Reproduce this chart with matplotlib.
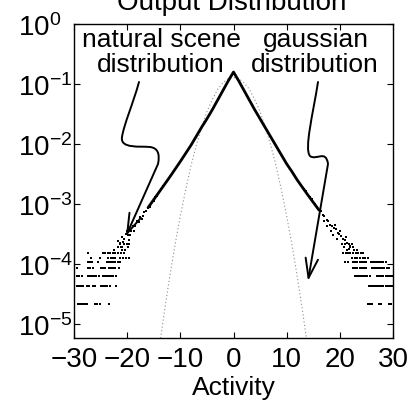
import numpy as np
import matplotlib
matplotlib.use('Agg')
import matplotlib.pyplot as plt
from matplotlib.path import Path
from matplotlib.patches import FancyArrowPatch, ArrowStyle
from matplotlib.ticker import LogLocator, NullFormatter

plt.rcParams['font.family'] = ['Liberation Sans', 'DejaVu Sans']
plt.rcParams['mathtext.fontset'] = 'custom'
plt.rcParams['mathtext.rm'] = 'Liberation Sans'
plt.rcParams['mathtext.it'] = 'Liberation Sans:italic'
plt.rcParams['mathtext.default'] = 'regular'

# natural scene output histogram, dense central part (log10 probability)
core_act = [-16, -14, -12, -11, -10, -8, -6, -5, -4, -3, -2, -1, 0,
            1, 2, 3, 4, 5, 6, 8, 10, 11, 12, 14, 16]
core_logp = [-3.05, -2.80, -2.55, -2.42, -2.29, -2.02, -1.72, -1.58, -1.43, -1.27, -1.11, -0.95, -0.80,
             -0.95, -1.11, -1.27, -1.43, -1.58, -1.73, -2.03, -2.33, -2.46, -2.60, -2.85, -3.09]

# scattered bins on the shoulders
shoulder_act = [-13.2, -13.6, -14.0, -14.3, -14.7, -15.0, -15.4, -15.7, -16.1, -16.4, -16.8, -17.1,
                -17.5, -17.8, -18.2, -18.5, -18.9, -19.2, -19.6, -19.9, -20.3, -20.6, -21.0, -21.3,
                -21.7, -17.3, -18.7, -19.4, -20.1, -20.8, -19.7, -21.2,
                13.2, 13.6, 14.0, 14.3, 14.7, 15.0, 15.4, 15.7, 16.1, 16.4, 16.8, 17.1, 17.5, 17.8,
                18.2, 18.5, 18.9, 19.2, 19.6, 19.9, 20.3, 20.6, 21.0, 21.3, 21.7, 22.0,
                17.0, 17.6, 18.4, 19.0, 19.5, 20.0, 20.5, 21.2, 21.8, 18.8, 20.8]
shoulder_logp = [-2.70, -2.74, -2.80, -2.86, -2.88, -2.95, -2.97, -3.04, -3.06, -3.12, -3.13, -3.20,
                 -3.22, -3.30, -3.28, -3.37, -3.36, -3.45, -3.42, -3.52, -3.50, -3.58, -3.55, -3.65,
                 -3.62, -3.25, -3.44, -3.52, -3.45, -3.63, -3.60, -3.72,
                 -2.74, -2.78, -2.84, -2.88, -2.92, -2.97, -3.00, -3.05, -3.10, -3.12, -3.18, -3.20,
                 -3.26, -3.28, -3.34, -3.36, -3.40, -3.42, -3.48, -3.50, -3.53, -3.58, -3.60, -3.64,
                 -3.66, -3.70, -3.28, -3.36, -3.45, -3.35, -3.58, -3.44, -3.66, -3.55, -3.75, -3.52, -3.72]

# far tails: bins with only a few counts (one count = count_unit)
count_unit = 2.15e-5
count1_act = [-29.3, -29.0, -28.7, -28.4, -28.0, -27.6, -26.0, -25.6, -25.2, -23.5,
              25.3, 25.7, 26.1, 27.3, 27.7, 29.3, 29.7]
count2_act = [-29.4, -29.1, -28.7, -28.3, -27.6, -27.2, -26.4, -26.0, -25.0, -24.6, -24.2, -23.8, -23.3, -22.1,
              25.4, 25.8, 26.2, 26.6, 27.0, 27.4, 27.8, 28.2, 28.6, 29.0, 29.4, 29.8]
count3_act = [-29.4, -29.0, -28.5, -27.4, -27.0, -26.6, -26.2, -25.8, -25.3, -24.6, -24.2, -23.8, -23.4,
              -23.0, -22.6, -22.1,
              22.8, 23.2, 23.6, 24.0, 24.4, 24.8, 25.2, 25.6, 27.0, 27.4, 27.8, 28.2, 28.6, 29.0, 29.4, 29.8]
count4_act = [-29.4, -27.4, -27.0, -26.5, -25.0, -24.6, -24.2, -23.5, -23.1, -22.6, -22.2, -21.5,
              22.5, 22.9, 23.3, 23.7, 24.1, 24.5, 25.0, 26.0, 26.4, 26.8, 27.2, 27.6, 28.0, 28.4, 28.8, 29.3]
count5_act = [-27.4, -27.0, -26.6, -25.4, -23.8, -23.4, -23.0, -22.6, -22.2, -21.7, -21.3,
              21.0, 21.5, 22.5, 22.9, 23.3, 23.7, 24.1, 24.5, 24.9, 25.8, 26.2, 26.6, 27.0, 27.4, 27.8,
              28.2, 28.7]
count6_act = [-26.8, -25.1, -23.6, -23.1, -22.7, -22.2, -21.3, -20.8, -20.3, -19.7,
              22.3, 22.8, 23.3, 23.8, 24.3, 24.8, 25.3]
count7_act = [-27.4, -24.5, -24.1, -23.6, -23.2, -22.7, -22.3, -21.7, -21.2, -20.6,
              20.6, 21.1, 21.6, 22.0, 22.5, 23.0, 23.5, 24.0, 24.4]
cloud_act = [-22.4, -21.0, -20.4, -21.8, -20.9, -19.8, -21.3, -20.6, -20.1, -19.6,
             21.4, 22.6, 23.2, 21.9, 22.4, 20.9, 21.7, 22.2]
cloud_count = [8, 8, 8, 9, 9, 9, 10, 10, 10, 10,
               8, 8, 8, 9, 9, 10, 10, 10]

# gaussian with the same variance (log10 probability)
gauss_act = [-14, -13, -12, -11, -10, -9, -8, -7, -6, -5, -4, -3, -2, -1, 0,
             1, 2, 3, 4, 5, 6, 7, 8, 9, 10, 11, 12, 13, 14]
gauss_logp = [-5.41, -4.79, -4.21, -3.68, -3.20, -2.76, -2.36, -2.02, -1.72, -1.46, -1.26, -1.09,
              -0.98, -0.91, -0.89, -0.91, -0.98, -1.09, -1.26, -1.46, -1.72, -2.02, -2.36, -2.76,
              -3.20, -3.68, -4.21, -4.79, -5.41]

W, H = 417, 402
fig = plt.figure(figsize=(W / 100, H / 100), dpi=100)
ax = fig.add_axes([74 / W, 1 - 339 / H, 319 / W, 314 / H])

ax.plot(gauss_act, np.power(10.0, gauss_logp), color='0.55', lw=0.8, ls=(0, (1, 2.2)))
ax.plot(core_act, np.power(10.0, core_logp), color='k', lw=2.0)

dot = dict(ls='none', marker='s', ms=2.1, mew=0, color='k')
ax.plot(shoulder_act, np.power(10.0, shoulder_logp), **dot)
for n, xs in enumerate([count1_act, count2_act, count3_act, count4_act,
                        count5_act, count6_act, count7_act], start=1):
    ax.plot(xs, [n * count_unit] * len(xs), **dot)
ax.plot(cloud_act, np.array(cloud_count) * count_unit, **dot)

ax.set_yscale('log')
ax.set_xlim(-30, 30)
ax.set_ylim(10 ** -5.23, 1)
ax.set_xticks([-30, -20, -10, 0, 10, 20, 30])
ax.set_yticks([1, 1e-1, 1e-2, 1e-3, 1e-4, 1e-5])
ax.set_yticklabels(['$10^{0}$', '$10^{-1}$', '$10^{-2}$', '$10^{-3}$', '$10^{-4}$', '$10^{-5}$'])
ax.yaxis.set_minor_locator(LogLocator(base=10, subs=np.arange(2, 10)))
ax.yaxis.set_minor_formatter(NullFormatter())
ax.tick_params(which='both', direction='in', top=True, right=True, width=0.8)
ax.tick_params(which='major', length=4)
ax.tick_params(which='minor', length=2)
ax.tick_params(axis='x', labelsize=20, pad=6)
ax.tick_params(axis='y', labelsize=20, pad=40)
for lab in ax.get_yticklabels():
    lab.set_ha('left')
for s in ax.spines.values():
    s.set_linewidth(1.0)

ax.set_xlabel('Activity', fontsize=19)
ax.xaxis.label.set_va('baseline')
ax.xaxis.set_label_coords(0.5, -(395 - 339) / 314)
fig.text(232 / W, 1 - 10 / H, 'Output Distribution', ha='center', va='baseline', fontsize=20)

# annotations
def px(x, y):
    return (x / W, 1 - y / H)

fs = 19
fig.text(*px(161, 47), 'natural scene', ha='center', va='baseline', fontsize=fs)
fig.text(*px(161, 72), 'distribution', ha='center', va='baseline', fontsize=fs)
fig.text(*px(316, 47), 'gaussian', ha='center', va='baseline', fontsize=fs)
fig.text(*px(315, 72), 'distribution', ha='center', va='baseline', fontsize=fs)

C4, L = Path.CURVE4, Path.LINETO
left_pts = [(139, 83), (133, 105), (124, 125), (122, 138), (120, 150), (140, 147), (150, 148),
            (158, 149), (160, 155), (158, 165), (126, 237)]
left_codes = [Path.MOVETO] + [C4] * 9 + [L]
right_pts = [(318, 83), (313, 115), (304, 150), (310, 157), (316, 162), (326, 150), (328, 165),
             (308, 282)]
right_codes = [Path.MOVETO] + [C4] * 6 + [L]
style = ArrowStyle('->', head_length=14, head_width=4.5)
for pts, codes in [(left_pts, left_codes), (right_pts, right_codes)]:
    path = Path([px(x, y) for x, y in pts], codes)
    arr = FancyArrowPatch(path=path, arrowstyle=style, mutation_scale=1, lw=1.4,
                          color='k', transform=fig.transFigure)
    fig.add_artist(arr)

fig.savefig('out.png', dpi=100)
